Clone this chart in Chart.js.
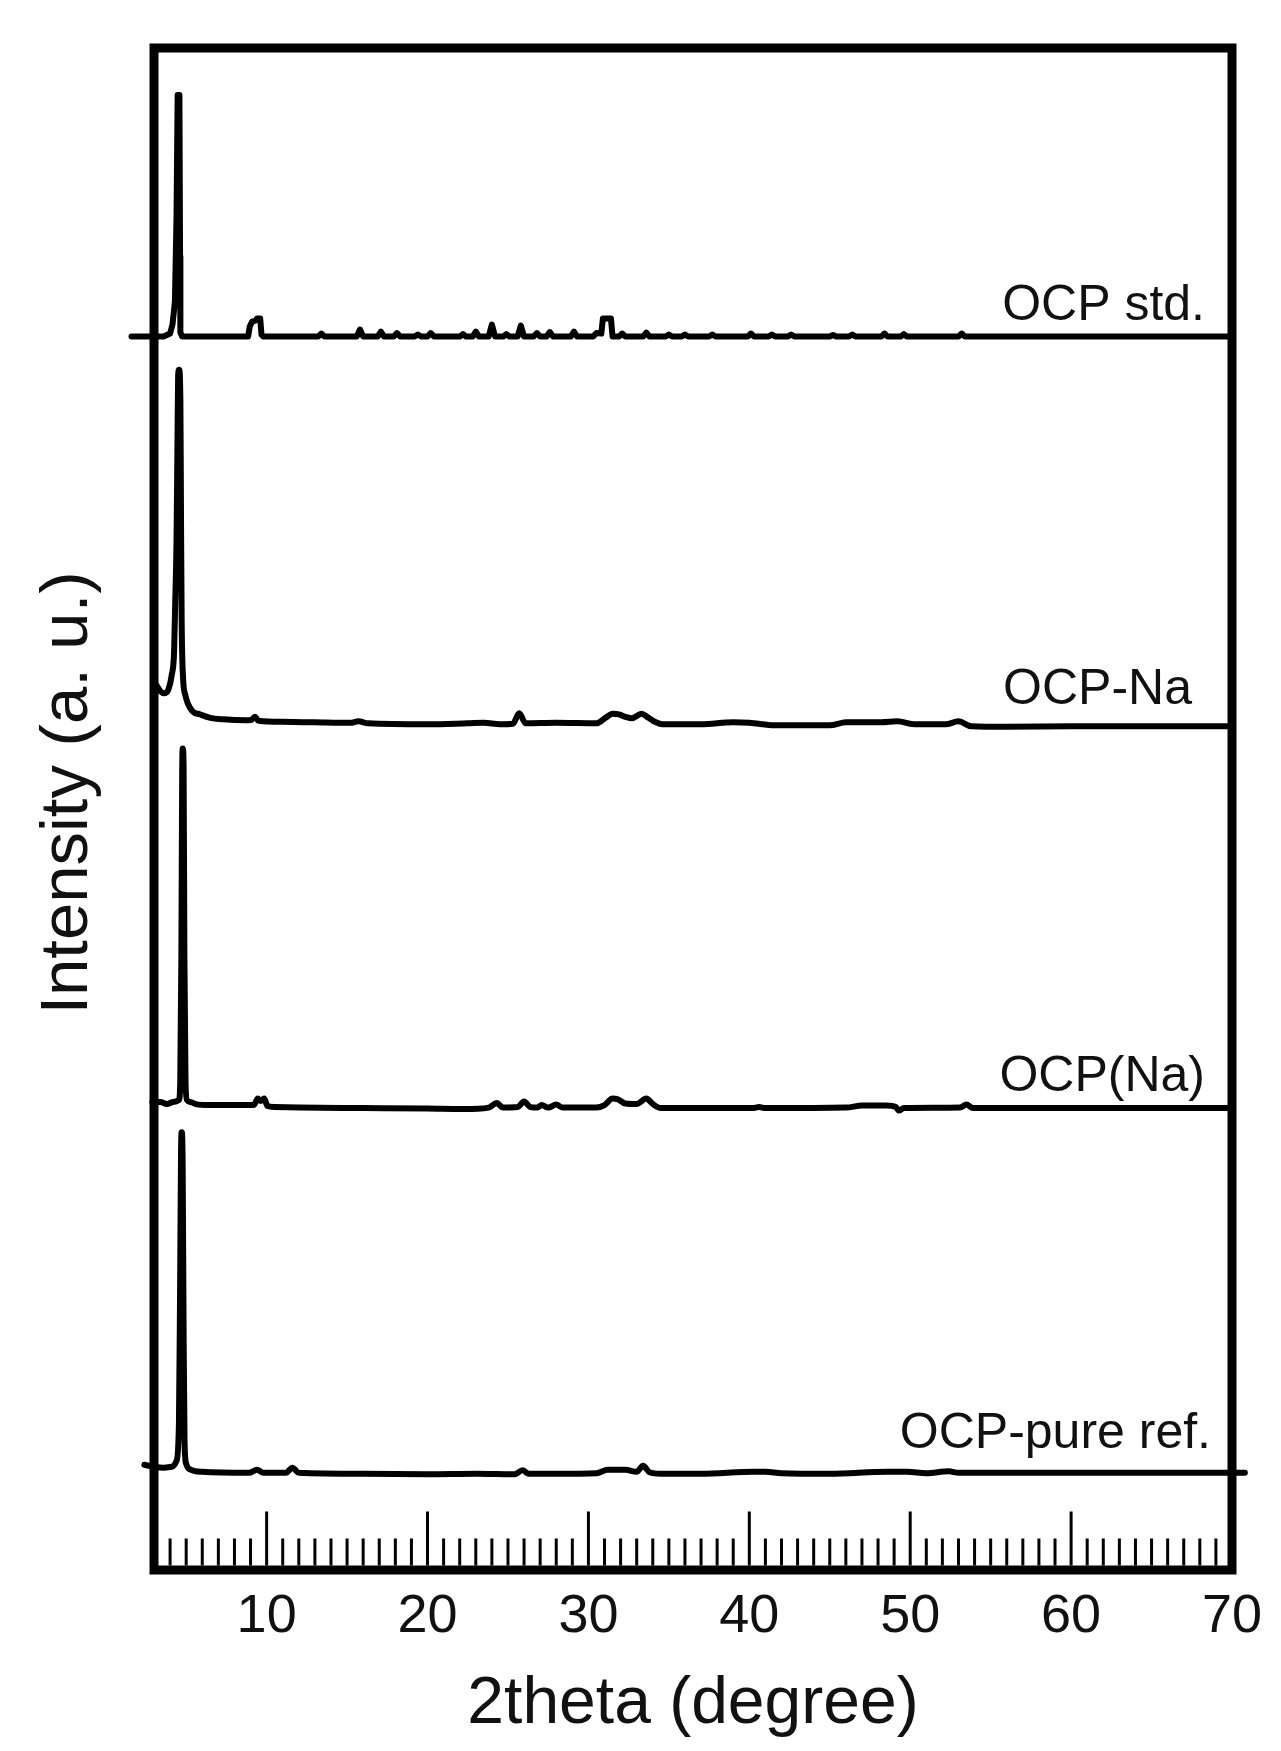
<!DOCTYPE html>
<html>
<head>
<meta charset="utf-8">
<style>
  html, body { margin: 0; padding: 0; background: #fff; }
  canvas { display: block; }
</style>
<script src="https://cdn.jsdelivr.net/npm/chart.js@4.4.1/dist/chart.umd.min.js"></script>
</head>
<body>
<canvas id="xrd" width="1281" height="1751"></canvas>
<script>
// series names, in drawing order (top to bottom)
const seriesNames = ['OCP std.', 'OCP-Na', 'OCP(Na)', 'OCP-pure ref.'];
// vertical offset of each pattern (a.u.)
const seriesOffsets = [123.1, 84.7, 46.1, 9.7];

const xTicks = [10, 20, 30, 40, 50, 60, 70];

// [2theta, intensity above baseline]
const ocpStd = [
  [1.6, 0], [3.6, 0], [4.0, 0.3], [4.15, 1.2], [4.3, 3.5], [4.4, 12], [4.47, 24.1], [4.58, 24.1], [4.62, 8], [4.64, 0.4], [4.75, 0],
  [8.85, 0], [8.95, 1.0], [9.1, 1.5], [9.3, 1.6], [9.4, 1.8], [9.6, 1.8], [9.68, 0.2], [9.8, 0],
  [13.2, 0], [13.4, 0.3], [13.6, 0],
  [15.6, 0], [15.8, 0.7], [16.0, 0],
  [16.9, 0], [17.1, 0.5], [17.3, 0],
  [17.9, 0], [18.1, 0.35], [18.3, 0],
  [19.2, 0], [19.4, 0.2], [19.6, 0],
  [20.0, 0], [20.2, 0.35], [20.4, 0],
  [22.0, 0], [22.2, 0.25], [22.4, 0],
  [22.8, 0], [23.0, 0.5], [23.2, 0],
  [23.8, 0], [24.0, 1.2], [24.2, 0],
  [24.7, 0], [24.9, 0.25], [25.1, 0],
  [25.6, 0], [25.8, 1.1], [26.0, 0],
  [26.6, 0], [26.8, 0.35], [27.0, 0],
  [27.4, 0], [27.6, 0.45], [27.8, 0],
  [28.9, 0], [29.1, 0.5], [29.3, 0],
  [30.3, 0], [30.5, 0.35], [30.8, 0.3], [30.9, 1.8], [31.4, 1.8], [31.5, 0],
  [31.9, 0], [32.1, 0.3], [32.3, 0],
  [33.4, 0], [33.6, 0.4], [33.8, 0],
  [34.8, 0], [35.0, 0.2], [35.2, 0],
  [35.8, 0], [36.0, 0.2], [36.2, 0],
  [37.5, 0], [37.7, 0.2], [37.9, 0],
  [39.9, 0], [40.1, 0.3], [40.3, 0],
  [41.2, 0], [41.4, 0.2], [41.6, 0],
  [42.4, 0], [42.6, 0.2], [42.8, 0],
  [45.0, 0], [45.2, 0.15], [45.4, 0],
  [46.2, 0], [46.4, 0.2], [46.6, 0],
  [48.2, 0], [48.4, 0.3], [48.6, 0],
  [49.4, 0], [49.6, 0.25], [49.8, 0],
  [53.0, 0], [53.2, 0.3], [53.4, 0],
  [70.0, 0]
];

const ocpNa = [
  [3.15, 3.6], [3.4, 3.0], [3.66, 2.8], [3.9, 3.2], [4.1, 4.6], [4.25, 7], [4.32, 12], [4.4, 18], [4.46, 28], [4.5, 34.5],
  [4.56, 35.1], [4.64, 32], [4.68, 20], [4.72, 10], [4.8, 4.5], [4.95, 2.6], [5.1, 1.8], [5.4, 1.0], [5.85, 0.7],
  [6.5, 0.35], [7.3, 0.2], [8.7, 0.1], [9.05, 0.15], [9.27, 0.45], [9.5, 0.05], [11, -0.05], [13, -0.1],
  [15.2, -0.15], [15.7, 0], [16.3, -0.2], [20, -0.3], [22.5, -0.2], [23.5, -0.15], [24.5, -0.3], [25.3, -0.25],
  [25.7, 0.8], [26.1, -0.2], [28, -0.15], [30.5, -0.2], [31.1, 0.4], [31.5, 0.75], [31.9, 0.7], [32.3, 0.45],
  [32.7, 0.3], [33.3, 0.75], [33.7, 0.4], [34.2, -0.1], [34.6, -0.3], [37, -0.3], [39, -0.1], [40, -0.15],
  [41.6, -0.4], [45, -0.4], [46, -0.1], [48.2, -0.1], [49.2, 0], [50.3, -0.3], [52.2, -0.3], [53, 0],
  [53.8, -0.5], [56, -0.55], [60, -0.5], [65, -0.5], [69.8, -0.5]
];

const ocpNaDoped = [
  [2.3, 0.8], [2.9, 0.6], [3.4, 0.6], [3.8, 0.4], [4.2, 0.6], [4.55, 0.8], [4.63, 2.5], [4.7, 15], [4.75, 33],
  [4.79, 35.9], [4.84, 34], [4.89, 15], [4.96, 2.5], [5.05, 0.8], [5.3, 0.6], [5.6, 0.4], [6.5, 0.3], [8.7, 0.3],
  [9.2, 0.3], [9.45, 0.95], [9.62, 0.7], [9.85, 0.95], [10.05, 0.2], [10.5, 0.1], [12, 0.05], [16, 0],
  [20, -0.05], [22.2, -0.1], [23.8, 0.05], [24.3, 0.5], [24.7, 0.05], [25.6, 0.1], [26.0, 0.65], [26.4, 0.1],
  [26.8, 0.05], [27.1, 0.3], [27.5, 0.05], [28.0, 0.35], [28.4, 0.05], [30.5, 0.05], [31.0, 0.3], [31.5, 0.95],
  [31.8, 0.9], [32.3, 0.45], [33.0, 0.4], [33.6, 0.95], [34.0, 0.4], [34.5, 0], [40.2, 0], [40.6, 0.1],
  [41, 0], [46, 0.05], [47, 0.25], [48.5, 0.25], [49.1, 0.1], [49.3, -0.25], [49.6, 0], [53.1, 0.05],
  [53.5, 0.35], [53.9, 0], [69.7, 0]
];

const ocpPure = [
  [2.4, 0.8], [3.0, 0.6], [3.6, 0.5], [4.1, 0.6], [4.4, 1.2], [4.55, 5], [4.62, 18], [4.68, 32], [4.72, 34],
  [4.78, 31], [4.84, 14], [4.9, 3], [5.0, 0.9], [5.3, 0.3], [6, 0.1], [8.9, 0], [9.4, 0.3], [9.8, 0],
  [11.2, 0], [11.6, 0.5], [12.0, 0], [16, -0.1], [20, -0.15], [23, -0.1], [25.4, -0.15], [25.9, 0.25],
  [26.3, -0.1], [28, -0.1], [30.5, -0.05], [31.2, 0.3], [32.3, 0.3], [33.0, 0.1], [33.4, 0.7], [33.8, 0.05],
  [34.5, -0.1], [37, -0.1], [40.3, 0.1], [41, 0.1], [42, -0.05], [45, -0.1], [48.6, 0.1], [49.8, 0.1],
  [51, -0.05], [52.4, 0.15], [53, 0], [60, 0], [65, 0], [70.8, 0]
];

const seriesData = [ocpStd, ocpNa, ocpNaDoped, ocpPure];

Chart.defaults.font.family = '"Liberation Sans", Arial, Helvetica, sans-serif';
Chart.defaults.color = '#111';

const FRAME = 9;
// where each name sits: px in from the right frame, px above its baseline
const labelPos = [[27, 17], [40, 17], [27, 17], [21, 25]];

// frame, inward tick marks, y title and the pattern names
const decor = {
  id: 'decor',
  afterDatasetsDraw(chart) {
    const { ctx, chartArea: a, scales: { x, y } } = chart;
    ctx.save();
    ctx.strokeStyle = '#000';

    ctx.lineWidth = 3;
    const inner = a.bottom - FRAME / 2;
    for (let v = Math.ceil(x.min); v < x.max; v++) {
      const px = x.getPixelForValue(v);
      const len = v % 10 === 0 ? 54 : 27;
      ctx.beginPath();
      ctx.moveTo(px, inner);
      ctx.lineTo(px, inner - len);
      ctx.stroke();
    }

    ctx.lineWidth = FRAME;
    ctx.strokeRect(a.left, a.top, a.right - a.left, a.bottom - a.top);

    ctx.fillStyle = '#111';
    ctx.font = '50px "Liberation Sans", Arial, sans-serif';
    ctx.textAlign = 'right';
    ctx.textBaseline = 'alphabetic';
    seriesNames.forEach((name, i) => {
      ctx.fillText(name, a.right - labelPos[i][0], y.getPixelForValue(seriesOffsets[i]) - labelPos[i][1]);
    });

    ctx.translate(69, 793);
    ctx.rotate(-Math.PI / 2);
    ctx.textAlign = 'center';
    ctx.textBaseline = 'middle';
    ctx.font = '67px "Liberation Sans", Arial, sans-serif';
    ctx.fillText('Intensity (a. u.)', 0, 0);
    ctx.restore();
  }
};

new Chart(document.getElementById('xrd'), {
  type: 'line',
  data: {
    datasets: seriesData.map((pts, i) => ({
      label: seriesNames[i],
      data: pts.map(p => ({ x: p[0], y: p[1] + seriesOffsets[i] })),
      borderColor: '#000',
      borderWidth: 6,
      borderJoinStyle: 'round',
      borderCapStyle: 'round',
      pointRadius: 0,
      fill: false,
      clip: false,
      tension: 0,
      cubicInterpolationMode: i === 0 ? 'default' : 'monotone'
    }))
  },
  options: {
    responsive: false,
    animation: false,
    layout: { padding: { left: 0, right: 49, top: 48, bottom: 0 } },
    plugins: { legend: { display: false }, tooltip: { enabled: false } },
    scales: {
      x: {
        type: 'linear',
        min: 3,
        max: 70,
        grid: { display: false, drawTicks: false },
        border: { display: false },
        afterBuildTicks: s => { s.ticks = xTicks.map(v => ({ value: v })); },
        ticks: { font: { size: 54 }, padding: 15, maxRotation: 0, autoSkip: false },
        title: {
          display: true,
          text: '2theta (degree)',
          font: { size: 66 },
          padding: { top: 0, bottom: 7 }
        }
      },
      y: {
        type: 'linear',
        min: 0,
        max: 151.9,
        grid: { display: false, drawTicks: false },
        border: { display: false },
        ticks: { display: false },
        afterFit: s => { s.width = 154; }
      }
    }
  },
  plugins: [decor]
});
</script>
</body>
</html>
